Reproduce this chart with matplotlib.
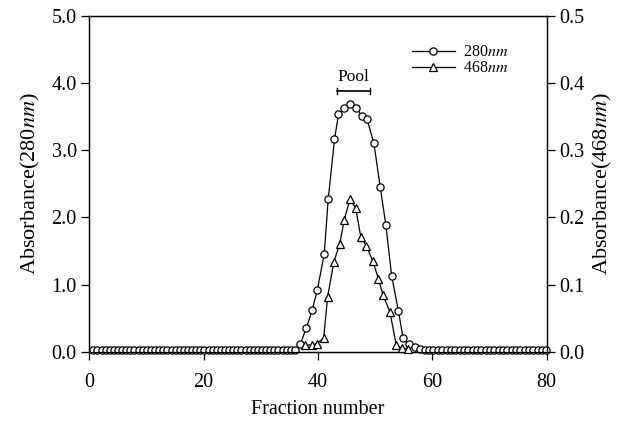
import matplotlib
matplotlib.use("Agg")
import matplotlib.pyplot as plt

plt.rcParams["font.family"] = ["Liberation Serif", "DejaVu Serif"]
plt.rcParams["mathtext.fontset"] = "stix"

# Absorbance at 280 nm (left axis) — baseline before the peak, the peak, baseline after
frac_280_pre = [0.7, 1.42, 2.14, 2.86, 3.58, 4.3, 5.02, 5.74, 6.46, 7.18,
                7.9, 8.62, 9.34, 10.06, 10.78, 11.5, 12.22, 12.94, 13.66, 14.38,
                15.1, 15.82, 16.54, 17.26, 17.98, 18.7, 19.42, 20.14, 20.86, 21.58,
                22.3, 23.02, 23.74, 24.46, 25.18, 25.9, 26.62, 27.34, 28.06, 28.78,
                29.5, 30.22, 30.94, 31.66, 32.38, 33.1, 33.82, 34.54, 35.26, 35.98]
abs_280_pre = [0.03, 0.03, 0.03, 0.03, 0.03, 0.03, 0.03, 0.03, 0.03, 0.03,
               0.03, 0.03, 0.03, 0.03, 0.03, 0.03, 0.03, 0.03, 0.03, 0.03,
               0.03, 0.03, 0.03, 0.03, 0.03, 0.03, 0.03, 0.03, 0.03, 0.03,
               0.03, 0.03, 0.03, 0.03, 0.03, 0.03, 0.03, 0.03, 0.03, 0.03,
               0.03, 0.03, 0.03, 0.03, 0.03, 0.03, 0.03, 0.03, 0.03, 0.03]
frac_280_peak = [36.9, 38.0, 39.0, 39.9, 41.1, 41.8, 42.9, 43.6, 44.6, 45.6, 46.7,
                 47.7, 48.6, 49.8, 50.9, 51.9, 52.9, 54.1, 54.9, 55.9, 56.9, 57.8]
abs_280_peak = [0.11, 0.36, 0.62, 0.92, 1.45, 2.27, 3.16, 3.53, 3.62, 3.69, 3.62,
                3.51, 3.46, 3.10, 2.45, 1.88, 1.13, 0.60, 0.20, 0.12, 0.07, 0.04]
frac_280_post = [58.7, 59.46, 60.22, 60.98, 61.74, 62.5, 63.26, 64.02, 64.78, 65.54,
                 66.3, 67.06, 67.82, 68.58, 69.34, 70.1, 70.86, 71.62, 72.38, 73.14,
                 73.9, 74.66, 75.42, 76.18, 76.94, 77.7, 78.46, 79.22, 79.98]
abs_280_post = [0.03, 0.03, 0.03, 0.03, 0.03, 0.03, 0.03, 0.03, 0.03, 0.03,
                0.03, 0.03, 0.03, 0.03, 0.03, 0.03, 0.03, 0.03, 0.03, 0.03,
                0.03, 0.03, 0.03, 0.03, 0.03, 0.03, 0.03, 0.03, 0.03]

# Absorbance at 468 nm (right axis)
frac_468 = [37.7, 38.9, 39.8, 41.0, 41.7, 42.8, 43.8, 44.6, 45.6, 46.6,
            47.5, 48.5, 49.6, 50.6, 51.4, 52.6, 53.7, 54.7, 55.8]
abs_468 = [0.01, 0.01, 0.012, 0.02, 0.082, 0.134, 0.16, 0.196, 0.227, 0.214,
           0.171, 0.157, 0.135, 0.108, 0.084, 0.059, 0.01, 0.005, 0.004]

# Pooled fractions
pool_start, pool_end, pool_level = 43.3, 49.1, 3.88

x_ticks = [0, 20, 40, 60, 80]
y_left_ticks = [0.0, 1.0, 2.0, 3.0, 4.0, 5.0]
y_right_ticks = [0.0, 0.1, 0.2, 0.3, 0.4, 0.5]

frac_280 = frac_280_pre + frac_280_peak + frac_280_post
abs_280 = abs_280_pre + abs_280_peak + abs_280_post

fig = plt.figure(figsize=(6.19, 4.21), dpi=100)
ax = fig.add_axes([0.1443, 0.1646, 0.7386, 0.7981])
ax2 = ax.twinx()

TICK_FS = 14.5
XLABEL_FS = 14.5
YLABEL_FS = 16

l280, = ax.plot(frac_280, abs_280, color="black", lw=0.9, marker="o", ms=5.2,
                mfc="white", mec="black", mew=0.9, clip_on=False, zorder=3,
                label="280$\\mathit{nm}$")
l468, = ax2.plot(frac_468, abs_468, color="black", lw=0.9, marker="^", ms=5.6,
                 mfc="white", mec="black", mew=0.9, clip_on=False, zorder=3,
                 label="468$\\mathit{nm}$")

ax.set_xlim(0, 80)
ax.set_ylim(0, 5)
ax2.set_ylim(0, 0.5)

ax.set_xticks(x_ticks)
ax.set_xticklabels([str(v) for v in x_ticks], fontsize=TICK_FS)
ax.set_yticks(y_left_ticks)
ax.set_yticklabels([f"{v:.1f}" for v in y_left_ticks], fontsize=TICK_FS)
ax2.set_yticks(y_right_ticks)
ax2.set_yticklabels([f"{v:.1f}" for v in y_right_ticks], fontsize=TICK_FS)

for a in (ax, ax2):
    a.tick_params(direction="out", length=5.5, width=0.9, pad=3.5)
    for s in a.spines.values():
        s.set_linewidth(0.9)
ax.tick_params(axis="x", pad=9.5)

ax.set_xlabel("Fraction number", fontsize=XLABEL_FS, labelpad=6)
ax.set_ylabel("Absorbance(280$\\mathit{nm}$)", fontsize=YLABEL_FS, labelpad=7)
ax2.set_ylabel("Absorbance(468$\\mathit{nm}$)", fontsize=YLABEL_FS, labelpad=5)

# Pool bracket
ax.plot([pool_start, pool_end], [pool_level, pool_level], color="black", lw=1.2)
for xe in (pool_start, pool_end):
    ax.plot([xe, xe], [pool_level - 0.04, pool_level + 0.04], color="black", lw=1.0)
ax.text((pool_start + pool_end) / 2, pool_level + 0.09, "Pool", ha="center",
        va="bottom", fontsize=12.5)

ax2.legend(handles=[l280, l468], loc="upper left", bbox_to_anchor=(0.705, 0.915),
           frameon=False, fontsize=11.5, handlelength=2.7, handletextpad=0.5,
           labelspacing=0.0, borderpad=0, borderaxespad=0)

fig.savefig("out.png", dpi=100)
